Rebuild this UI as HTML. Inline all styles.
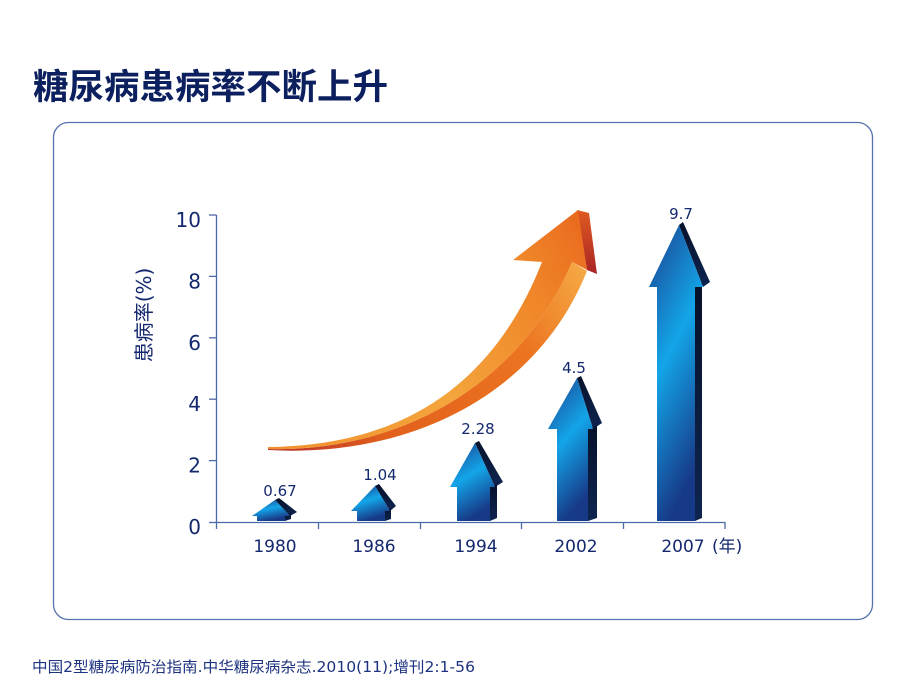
<!DOCTYPE html>
<html><head><meta charset="utf-8"><style>
html,body{margin:0;padding:0;background:#fff;}
svg{display:block;}
</style></head><body>
<svg width="920" height="690" viewBox="0 0 920 690" xmlns="http://www.w3.org/2000/svg">
<defs>
  <linearGradient id="bf" x1="0" y1="0" x2="0.35" y2="1">
    <stop offset="0" stop-color="#1c3f8e"/>
    <stop offset="0.5" stop-color="#13a5e8"/>
    <stop offset="1" stop-color="#173a88"/>
  </linearGradient>
  <linearGradient id="bs" x1="0" y1="0" x2="0" y2="1">
    <stop offset="0" stop-color="#07112a"/>
    <stop offset="1" stop-color="#0f2550"/>
  </linearGradient>
  <linearGradient id="of" gradientUnits="userSpaceOnUse" x1="268" y1="447" x2="580" y2="215">
    <stop offset="0" stop-color="#f0902e"/>
    <stop offset="0.45" stop-color="#f4a53c"/>
    <stop offset="0.8" stop-color="#ef8428"/>
    <stop offset="1" stop-color="#ea6a1c"/>
  </linearGradient>
  <linearGradient id="ob" gradientUnits="userSpaceOnUse" x1="268" y1="449" x2="586" y2="270">
    <stop offset="0" stop-color="#b8302a"/>
    <stop offset="0.3" stop-color="#e2601c"/>
    <stop offset="0.75" stop-color="#ec7420"/>
    <stop offset="1" stop-color="#f5aa45"/>
  </linearGradient>
  <linearGradient id="oh" gradientUnits="userSpaceOnUse" x1="513" y1="260" x2="590" y2="215">
    <stop offset="0" stop-color="#f08a2a"/>
    <stop offset="1" stop-color="#e9661c"/>
  </linearGradient>
  <linearGradient id="or" x1="0" y1="0" x2="0" y2="1">
    <stop offset="0" stop-color="#e05a20"/>
    <stop offset="1" stop-color="#a82426"/>
  </linearGradient>
</defs>

<rect width="920" height="690" fill="#fff"/>

<!-- Title -->
<text x="33" y="99" font-family="'Liberation Sans','Noto Sans CJK SC',sans-serif" font-weight="bold" font-size="35" fill="#0c1f5e" textLength="355" lengthAdjust="spacingAndGlyphs">糖尿病患病率不断上升</text>

<!-- Frame -->
<rect x="53.5" y="122.5" width="819" height="497" rx="15" ry="15" fill="none" stroke="#5572ae" stroke-width="1.3"/>

<!-- Axes -->
<g stroke="#4d6aa8" stroke-width="1.3" fill="none">
  <line x1="216.5" y1="215" x2="216.5" y2="529"/>
  <line x1="216" y1="522.5" x2="725.5" y2="522.5"/>
  <line x1="209" y1="215" x2="216.5" y2="215"/>
  <line x1="209" y1="276.4" x2="216.5" y2="276.4"/>
  <line x1="209" y1="337.8" x2="216.5" y2="337.8"/>
  <line x1="209" y1="399.2" x2="216.5" y2="399.2"/>
  <line x1="209" y1="460.6" x2="216.5" y2="460.6"/>
  <line x1="209" y1="522.5" x2="216.5" y2="522.5"/>
  <line x1="318.5" y1="522" x2="318.5" y2="529"/>
  <line x1="420.5" y1="522" x2="420.5" y2="529"/>
  <line x1="521.5" y1="522" x2="521.5" y2="529"/>
  <line x1="623.5" y1="522" x2="623.5" y2="529"/>
  <line x1="725" y1="522" x2="725" y2="529"/>
</g>

<!-- Y tick labels -->
<g font-family="'DejaVu Sans','Liberation Sans',sans-serif" font-size="20" fill="#14286e" text-anchor="end">
  <text x="201" y="227">10</text>
  <text x="201" y="288.4">8</text>
  <text x="201" y="349.8">6</text>
  <text x="201" y="411.2">4</text>
  <text x="201" y="472.6">2</text>
  <text x="201" y="534">0</text>
</g>

<!-- Y axis title -->
<text transform="translate(151,315) rotate(-90)" text-anchor="middle" font-family="'DejaVu Sans','Noto Sans CJK SC',sans-serif" font-size="20" fill="#14286e">患病率(%)</text>

<!-- X labels -->
<g font-family="'DejaVu Sans','Liberation Sans',sans-serif" font-size="17" fill="#14286e" text-anchor="middle">
  <text x="275" y="552">1980</text>
  <text x="374" y="552">1986</text>
  <text x="476" y="552">1994</text>
  <text x="576" y="552">2002</text>
  <text x="683" y="552">2007</text>
</g>
<text x="712" y="552" font-family="'DejaVu Sans','Noto Sans CJK SC',sans-serif" font-size="17" fill="#14286e">(年)</text>

<!-- Orange curved arrow -->
<path d="M268,449 C400,452 520,385 572,262 L587,271 C536,398 406,458 268,450 Z" fill="url(#ob)"/>
<path d="M268,447 C390,446 490,395 542,262 L572,262 C520,385 400,452 268,449 Z" fill="url(#of)"/>
<polygon points="577,210 589,213 597,274 587,270" fill="url(#or)"/>
<polygon points="542,262 513,260 578,210 587,270 572,262" fill="url(#oh)"/>

<!-- Blue arrows -->
<!-- 1980 -->
<polygon points="275,500 279,498 297,512 290,516" fill="url(#bs)"/>
<polygon points="285,516 291,513 291,519 285,521" fill="url(#bs)"/>
<polygon points="275,500 290,516 285,516 285,521 257,521 257,516 252,516" fill="url(#bf)"/>
<!-- 1986 -->
<polygon points="375,486 379,484 396,506 390,511" fill="url(#bs)"/>
<polygon points="385,511 391,508 391,519 385,521" fill="url(#bs)"/>
<polygon points="375,486 390,511 385,511 385,521 357,521 357,511 351,511" fill="url(#bf)"/>
<!-- 1994 -->
<polygon points="475,443 479,441 503,482 495,487" fill="url(#bs)"/>
<polygon points="490,487 497,484 497,518 490,521" fill="url(#bs)"/>
<polygon points="475,443 495,487 490,487 490,521 457,521 457,487 450,487" fill="url(#bf)"/>
<!-- 2002 -->
<polygon points="577,378 581,376 602,423 593,429" fill="url(#bs)"/>
<polygon points="588,429 597,425 597,518 588,521" fill="url(#bs)"/>
<polygon points="577,378 593,429 588,429 588,521 557,521 557,429 548,429" fill="url(#bf)"/>
<!-- 2007 -->
<polygon points="679,225 683,222 710,282 703,287" fill="url(#bs)"/>
<polygon points="695,287 702,283 702,518 695,521" fill="url(#bs)"/>
<polygon points="679,225 703,287 695,287 695,521 657,521 657,287 649,287" fill="url(#bf)"/>

<!-- Value labels -->
<g font-family="'DejaVu Sans','Liberation Sans',sans-serif" font-size="15" fill="#14286e" text-anchor="middle">
  <text x="280" y="496">0.67</text>
  <text x="380" y="480">1.04</text>
  <text x="478" y="434">2.28</text>
  <text x="574" y="373">4.5</text>
  <text x="681" y="219">9.7</text>
</g>

<!-- Footer -->
<text x="32" y="672" font-family="'DejaVu Sans','Noto Sans CJK SC',sans-serif" font-size="15" fill="#1e3380" textLength="443" lengthAdjust="spacingAndGlyphs">中国2型糖尿病防治指南.中华糖尿病杂志.2010(11);增刊2:1-56</text>
</svg>
</body></html>
